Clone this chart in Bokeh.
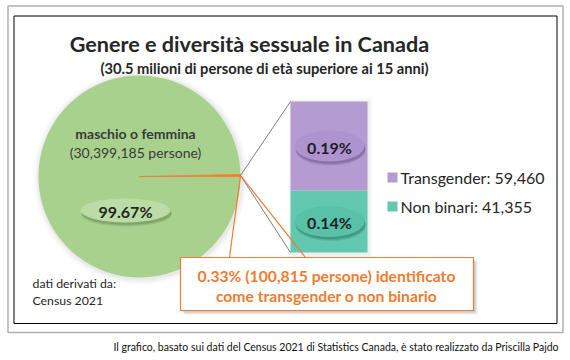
from bokeh.plotting import figure
from bokeh.models import Range1d
from bokeh.core.properties import value
from bokeh.embed import file_html
from bokeh.resources import INLINE
import numpy as np

# ---- data ----
categories = ["maschio o femmina", "Transgender", "Non binari"]
counts = [30399185, 59460, 41355]
title = "Genere e diversità sessuale in Canada"
subtitle = "(30.5 milioni di persone di età superiore ai 15 anni)"
source_lines = ["dati derivati da:", "Census 2021"]
footer = "Il grafico, basato sui dati del Census 2021 di Statistics Canada, è stato realizzato da Priscilla Pajdo"

total = sum(counts)
other = counts[1] + counts[2]
pct = [c / total * 100 for c in counts]
other_pct = other / total * 100

FONT = "Lato"
GREEN = "#a9d18e"
PURPLE = "#b49bd2"
TEAL = "#62c9b0"
ORANGE = "#ed7d31"
DARK = "#262626"

W, H = 570, 360
p = figure(width=W, height=H, output_backend="svg", toolbar_location=None,
           x_range=Range1d(0, W), y_range=Range1d(0, H),
           min_border=0, outline_line_color=None)
p.axis.visible = False
p.grid.visible = False
p.background_fill_color = "white"

def Y(py):
    return H - py

# frames
p.quad(left=[7.5], right=[562.5], top=[Y(5.5)], bottom=[Y(332)], fill_color=None,
       line_color="#b0b0b0", line_width=1.5)
p.quad(left=[13.5], right=[556.5], top=[Y(15.5)], bottom=[Y(323)], fill_color=None,
       line_color="#000000", line_width=1)

# titles
p.text(x=[249], y=[Y(43)], text=[title], text_font=value(FONT), text_font_size="21.6px",
       text_font_style="bold", text_color=DARK, text_align="center", text_baseline="middle")
p.text(x=[264], y=[Y(67)], text=[subtitle], text_font=value(FONT), text_font_size="14.7px",
       text_font_style="bold", text_color=DARK, text_align="center", text_baseline="middle")

# pie
cx, cy, r = 139, Y(176), 101
for k, a in [(6, 0.04), (4, 0.06), (2, 0.08)]:
    p.circle(x=[cx + 1], y=[cy - 1], radius=r + k, fill_color="#808080", fill_alpha=a, line_color=None)
half = other / total * np.pi
p.wedge(x=[cx], y=[cy], radius=r, start_angle=half + 0.01, end_angle=2 * np.pi - half + 0.01,
        fill_color=GREEN, line_color=None)
p.wedge(x=[cx], y=[cy], radius=r, start_angle=-half + 0.01, end_angle=half + 0.01,
        fill_color=ORANGE, line_color=ORANGE, line_width=0.8)

# pie labels
p.text(x=[135], y=[Y(133)], text=[categories[0]], text_font=value(FONT), text_font_size="14px",
       text_font_style="bold", text_color="#3a3a3a", text_align="center", text_baseline="middle")
p.text(x=[135], y=[Y(152)], text=["(%s persone)" % format(counts[0], ",")], text_font=value(FONT),
       text_font_size="14px", text_color="#3a3a3a", text_align="center", text_baseline="middle")
for dy, a in [(4, 0.25), (3, 0.3), (2, 0.35)]:
    p.ellipse(x=[126], y=[Y(210 + dy)], width=90, height=24, fill_color="#6f8a5a", fill_alpha=a, line_color=None)
p.ellipse(x=[125], y=[Y(210)], width=90, height=24, fill_color="#bcdca6", line_color=None)
p.text(x=[125], y=[Y(211)], text=["%.2f%%" % pct[0]], text_font=value(FONT), text_font_size="16px",
       text_font_style="bold", text_color=DARK, text_align="center", text_baseline="middle")

# bar of the "other" slice
bx0, bx1 = 290, 367
b_bottom, b_top = Y(252), Y(101)
scale = (b_top - b_bottom) / other
nb_top = b_bottom + counts[2] * scale
tr_top = nb_top + counts[1] * scale
for k, a in [(4, 0.05), (2, 0.08)]:
    p.quad(left=[bx0 - k + 2], right=[bx1 + k + 1], bottom=[b_bottom - k - 1], top=[tr_top + k - 1],
           fill_color="#808080", fill_alpha=a, line_color=None)
p.quad(left=[bx0], right=[bx1], bottom=[b_bottom], top=[nb_top], fill_color=TEAL, line_color=None)
p.quad(left=[bx0], right=[bx1], bottom=[nb_top], top=[tr_top], fill_color=PURPLE, line_color=None)

# connector lines
ex, ey = cx + r, cy + 1
p.segment(x0=[ex, ex], y0=[ey, ey], x1=[bx0, bx0], y1=[tr_top, b_bottom], line_color="#7f7f7f", line_width=1)

# bar labels
mid_tr = (nb_top + tr_top) / 2
mid_nb = (b_bottom + nb_top) / 2
for yy, col, sh, v in [(mid_tr, "#ae93cf", "#6d5888", pct[1]), (mid_nb, "#58c2a8", "#2f7a69", pct[2])]:
    for dy, a in [(4, 0.22), (3, 0.28), (2, 0.32)]:
        p.ellipse(x=[330], y=[yy - dy], width=70, height=31, fill_color=sh, fill_alpha=a, line_color=None)
    p.ellipse(x=[329], y=[yy], width=70, height=31, fill_color=col, line_color=None)
    p.text(x=[329], y=[yy - 1], text=["%.2f%%" % v], text_font=value(FONT), text_font_size="16px",
           text_font_style="bold", text_color="#1e1e2a", text_align="center", text_baseline="middle")

# legend
for yy, col, name, c in [(Y(177), PURPLE, categories[1], counts[1]), (Y(206), TEAL, categories[2], counts[2])]:
    p.scatter(x=[392], y=[yy], marker="square", size=10, fill_color=col, line_color=None)
    p.text(x=[400], y=[yy], text=["%s: %s" % (name, format(c, ","))], text_font=value(FONT),
           text_font_size="16px", text_color=DARK, text_align="left", text_baseline="middle")

# callout
p.segment(x0=[229, 305], y0=[Y(257), Y(257)], x1=[ex, ex], y1=[ey, ey], line_color=ORANGE, line_width=1.2)
for k, a in [(4, 0.12), (3, 0.15), (2, 0.2)]:
    p.quad(left=[180 + k], right=[473 + k], top=[Y(257 + k)], bottom=[Y(310 + k)],
           fill_color="#808080", fill_alpha=a, line_color=None)
p.quad(left=[180], right=[473], top=[Y(257)], bottom=[Y(310)], fill_color="white", line_color=ORANGE, line_width=1.2)
p.text(x=[326, 326], y=[Y(275), Y(295)],
       text=["%.2f%% (%s persone) identificato" % (other_pct, format(other, ",")), "come transgender o non binario"],
       text_font=value(FONT), text_font_size="15.7px", text_font_style="bold", text_color=ORANGE,
       text_align="center", text_baseline="middle")

# source
p.text(x=[32, 32], y=[Y(283), Y(300)], text=source_lines, text_font=value(FONT), text_font_size="12.3px",
       text_color=DARK, text_align="left", text_baseline="middle")

# footer
p.text(x=[558], y=[Y(346)], text=[footer], text_font=value(FONT), text_font_size="10.5px",
       text_color="#111111", text_align="right", text_baseline="middle")

open("out.html", "w").write(file_html(p, INLINE))
